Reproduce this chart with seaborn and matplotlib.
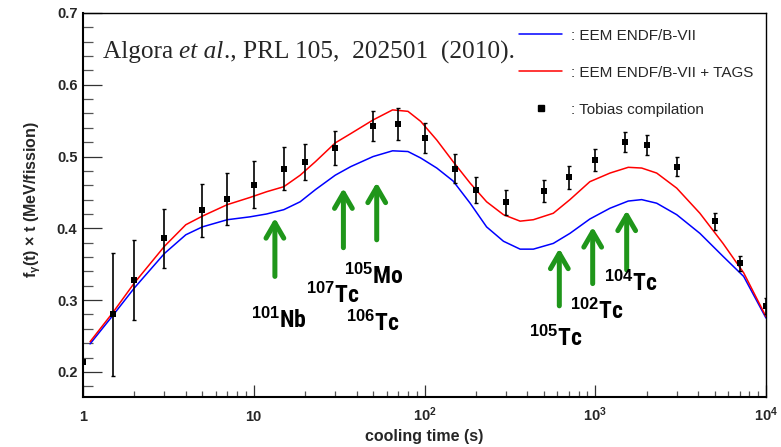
import numpy as np
import pandas as pd
import matplotlib
matplotlib.use("Agg")
import matplotlib.pyplot as plt
import matplotlib.font_manager as fm
from matplotlib.lines import Line2D
import seaborn as sns

# ---- data -------------------------------------------------------------
# Tobias compilation: cooling time (s), f_gamma(t)*t (MeV/fission), error
tob_time = [1, 1.5, 2, 3, 5, 7, 10, 15, 20, 30, 50, 70, 100, 150, 200, 300,
            500, 700, 1000, 1500, 2000, 3000, 5000, 7000, 10000]
tob_value = [0.214, 0.280, 0.328, 0.386, 0.425, 0.441, 0.461, 0.483, 0.493,
             0.512, 0.542, 0.545, 0.526, 0.483, 0.453, 0.436, 0.452, 0.471,
             0.495, 0.520, 0.516, 0.486, 0.410, 0.351, 0.292]
tob_error = [0.0, 0.086, 0.056, 0.041, 0.037, 0.036, 0.033, 0.030, 0.025,
             0.024, 0.021, 0.022, 0.021, 0.020, 0.018, 0.017, 0.016, 0.016,
             0.015, 0.014, 0.014, 0.013, 0.012, 0.011, 0.011]

# EEM calculations
curve_time = [1.1, 1.5, 2, 3, 4, 5, 7, 9.5, 11.9, 15, 18.7, 23, 30, 37, 50,
              65, 80, 95, 118, 147, 185, 231, 290, 363, 434, 568, 711, 930,
              1220, 1560, 1870, 2290, 3000, 4100, 5600, 7400, 10000]
eem_endf = [0.239, 0.279, 0.317, 0.365, 0.391, 0.402, 0.412, 0.416, 0.420,
            0.426, 0.437, 0.454, 0.474, 0.486, 0.500, 0.508, 0.507, 0.498,
            0.484, 0.466, 0.435, 0.402, 0.382, 0.371, 0.371, 0.379, 0.393,
            0.413, 0.428, 0.438, 0.440, 0.435, 0.419, 0.393, 0.361, 0.333,
            0.275]
eem_endf_tags = [0.242, 0.283, 0.324, 0.375, 0.405, 0.417, 0.433, 0.443,
                 0.451, 0.458, 0.474, 0.493, 0.519, 0.532, 0.551, 0.565,
                 0.563, 0.549, 0.523, 0.493, 0.463, 0.437, 0.419, 0.410,
                 0.412, 0.421, 0.440, 0.465, 0.477, 0.485, 0.484, 0.477,
                 0.456, 0.421, 0.379, 0.338, 0.277]

# Key nuclides marked with arrows
nuc_name = ["Nb", "Tc", "Mo", "Tc", "Tc", "Tc", "Tc"]
nuc_mass = ["101", "107", "105", "106", "105", "102", "104"]

# ---- style --------------------------------------------------------------
sns.set_theme(style="white")
plt.rcParams["font.family"] = ["Liberation Sans", "DejaVu Sans"]
plt.rcParams["mathtext.fontset"] = "custom"
plt.rcParams["mathtext.rm"] = "Liberation Sans:bold"
plt.rcParams["mathtext.it"] = "Liberation Sans:bold"
plt.rcParams["mathtext.bf"] = "Liberation Sans:bold"

# narrow bold face for the nuclide names, if one is available
installed = {f.name for f in fm.fontManager.ttflist}
narrow = None
for cand in ["Liberation Sans Narrow", "DejaVu Sans Condensed",
             "Roboto Condensed", "Open Sans Condensed", "Arial Narrow"]:
    if cand in installed:
        narrow = cand
        break
nuc_family = [narrow, "Liberation Sans"] if narrow else ["Liberation Sans"]
nuc_size = 17 if narrow else 14.5

fig = plt.figure(figsize=(7.81, 4.47), dpi=100)
ax = fig.add_axes([83 / 781, 1 - 397 / 447, 683 / 781, 384 / 447])

curves = pd.DataFrame({
    "t": curve_time * 2,
    "v": eem_endf + eem_endf_tags,
    "model": [": EEM ENDF/B-VII"] * len(curve_time)
             + [": EEM ENDF/B-VII + TAGS"] * len(curve_time),
})
sns.lineplot(data=curves, x="t", y="v", hue="model",
             palette={": EEM ENDF/B-VII": "#0000ff",
                      ": EEM ENDF/B-VII + TAGS": "#ff0000"},
             estimator=None, sort=False, lw=1.1, ax=ax, legend=False)

ax.errorbar(tob_time, tob_value, yerr=tob_error, fmt="none", ecolor="black",
            elinewidth=1.2, capsize=1.5, capthick=1.0, zorder=3)
sns.scatterplot(x=tob_time, y=tob_value, marker="s", s=22, color="black",
                edgecolor="black", linewidth=0, ax=ax, zorder=4)

ax.set_xscale("log")
ax.set_xlim(1, 1e4)
ax.set_ylim(0.165, 0.7)

# ---- arrows marking dominant nuclides --------------------------------------
green = "#1f961a"
arrow_specs = [(13.3, 0.333, 0.4145), (33.5, 0.373, 0.456),
               (52.5, 0.384, 0.464), (616, 0.292, 0.372),
               (966, 0.323, 0.402), (1528, 0.342, 0.425)]
for xa, y0, y1 in arrow_specs:
    ax.annotate("", xy=(xa, y1), xytext=(xa, y0),
                arrowprops=dict(arrowstyle="->,head_length=0.55,head_width=0.32",
                                lw=3.6, color=green, mutation_scale=20,
                                shrinkA=0, shrinkB=0))

label_pos = [(14.1, 0.2724), (29.2, 0.3072), (50.3, 0.3327), (50.0, 0.2678),
             (588, 0.2469), (1019, 0.284), (1608, 0.3236)]
for (xl, yl), name, mass in zip(label_pos, nuc_name, nuc_mass):
    ax.text(xl, yl, r"$^{%s}$%s" % (mass, name), ha="center", va="center",
            fontsize=nuc_size, fontweight="bold", color="black",
            family=nuc_family)

# ---- citation ----------------------------------------------------------------
fig.canvas.draw()
renderer = fig.canvas.get_renderer()
pieces = [("Algora ", "normal"), ("et al", "italic"),
          ("., PRL 105,  202501  (2010).", "normal")]
xcur = 0.029
for txt, style in pieces:
    tt = ax.text(xcur, 0.898, txt, transform=ax.transAxes, va="center",
                 ha="left", fontsize=18.2, family="Liberation Serif",
                 style=style)
    xcur += tt.get_window_extent(renderer=renderer).width / ax.bbox.width

# ---- legend ----------------------------------------------------------------
handles = [Line2D([], [], color="#0000ff", lw=1.1),
           Line2D([], [], color="#ff0000", lw=1.1),
           Line2D([], [], ls="none", marker="s", ms=4.5, color="black")]
labels = [": EEM ENDF/B-VII", ": EEM ENDF/B-VII + TAGS", ": Tobias compilation"]
ax.legend(handles, labels, loc="upper left", bbox_to_anchor=(0.630, 0.975),
          frameon=False, fontsize=11, handlelength=2.8, handletextpad=0.55,
          labelspacing=1.5, borderaxespad=0)

# ---- axes decoration -----------------------------------------------------------
ax.set_xticks([1, 10, 100, 1000, 10000])
ax.set_xticklabels(["1", "10", r"$10^{2}$", r"$10^{3}$", r"$10^{4}$"])
ax.set_xticks([m * 10 ** d for d in range(4) for m in range(2, 10)], minor=True)
ax.set_yticks([0.2, 0.3, 0.4, 0.5, 0.6, 0.7])
ax.set_yticklabels(["0.2", "0.3", "0.4", "0.5", "0.6", "0.7"])
ax.set_yticks(np.arange(0.18, 0.70, 0.02), minor=True)
ax.xaxis.set_minor_formatter(matplotlib.ticker.NullFormatter())

ax.tick_params(axis="x", which="major", direction="in", length=8.5, width=0.9,
               color="#333333", pad=17, labelsize=10.5, bottom=True, top=False)
ax.tick_params(axis="x", which="minor", direction="in", length=4.3, width=0.9,
               color="#555555", bottom=True, top=False)
ax.tick_params(axis="y", which="major", direction="in", length=13.5, width=0.9,
               color="#333333", pad=4, labelsize=10.5, left=True, right=False)
ax.tick_params(axis="y", which="minor", direction="in", length=7, width=0.9,
               color="#555555", left=True, right=False)
for lab in ax.get_xticklabels():
    lab.set_fontweight("bold")
    lab.set_va("baseline")
for lab in ax.get_yticklabels():
    lab.set_fontweight("bold")

for side in ["left", "bottom"]:
    ax.spines[side].set_linewidth(1.5)
for side in ["top", "right"]:
    ax.spines[side].set_linewidth(1.0)
for sp in ax.spines.values():
    sp.set_color("black")

ax.set_xlabel("cooling time (s)", fontsize=11.5, fontweight="bold")
ax.set_ylabel(r"f$_{\gamma}$(t) × t (MeV/fission)", fontsize=11.5,
              fontweight="bold")
ax.xaxis.set_label_coords(0.5, -0.103)
ax.xaxis.label.set_va("center")
ax.yaxis.set_label_coords(-0.073, 0.513)
ax.yaxis.label.set_va("center")

fig.savefig("out.png", dpi=100)
